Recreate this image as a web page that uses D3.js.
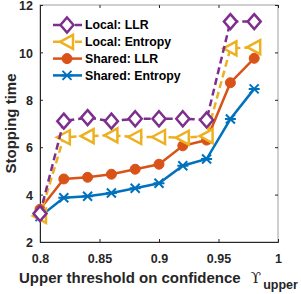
<!DOCTYPE html>
<html>
<head>
<meta charset="utf-8">
<script src="https://cdn.jsdelivr.net/npm/d3@7"></script>
<style>
  body { margin: 0; background: #fff; }
  text { font-family: "Liberation Sans", Arial, sans-serif; font-weight: bold; }
</style>
</head>
<body>
<div id="wrapper"></div>
<script>
// data
const thresholds = [0.8, 0.82, 0.84, 0.86, 0.88, 0.9, 0.92, 0.94, 0.96, 0.98];
const localLLR = [3.2, 7.1, 7.25, 7.1, 7.2, 7.2, 7.2, 7.15, 11.3, 11.3];
const localEntropy = [3.1, 6.42, 6.47, 6.5, 6.43, 6.43, 6.4, 6.47, 10.17, 10.22];
const sharedLLR = [3.38, 4.66, 4.73, 4.86, 5.07, 5.28, 6.06, 6.3, 8.72, 9.75];
const sharedEntropy = [3.07, 3.87, 3.93, 4.07, 4.27, 4.48, 5.22, 5.5, 7.19, 8.46];
const xTicks = [0.8, 0.85, 0.9, 0.95, 1];
const yTicks = [2, 4, 6, 8, 10, 12];

const series = [
  { name: "Local: LLR", values: localLLR, color: "#7E2F8E", dash: "7,4", marker: "diamond" },
  { name: "Local: Entropy", values: localEntropy, color: "#EDB120", dash: "7,4", marker: "triangle" },
  { name: "Shared: LLR", values: sharedLLR, color: "#D95319", dash: null, marker: "circle" },
  { name: "Shared: Entropy", values: sharedEntropy, color: "#0072BD", dash: null, marker: "star" }
];

const width = 301, height = 294;
const margin = { top: 5, right: 23, bottom: 52, left: 40 };

const svg = d3.select("#wrapper").append("svg")
  .attr("width", width)
  .attr("height", height);

const xScale = d3.scaleLinear().domain([0.8, 1]).range([margin.left, width - margin.right]);
const yScale = d3.scaleLinear().domain([2, 12]).range([height - margin.bottom, margin.top]);

const axisColor = "#262626";

// box
svg.append("rect")
  .attr("x", xScale(0.8)).attr("y", yScale(12))
  .attr("width", xScale(1) - xScale(0.8))
  .attr("height", yScale(2) - yScale(12))
  .attr("fill", "none").attr("stroke", "#a0a0a0").attr("stroke-width", 1);

// axes
const xAxis = svg.append("g")
  .attr("transform", `translate(0,${yScale(2)})`)
  .call(d3.axisBottom(xScale).tickValues(xTicks).tickSize(-3).tickPadding(12)
    .tickFormat(d => d === 1 ? "1" : d3.format("")(d)));
const yAxis = svg.append("g")
  .attr("transform", `translate(${xScale(0.8)},0)`)
  .call(d3.axisLeft(yScale).tickValues(yTicks).tickSize(-3).tickPadding(7));
const xTop = svg.append("g")
  .attr("transform", `translate(0,${yScale(12)})`)
  .call(d3.axisTop(xScale).tickValues(xTicks).tickSize(-3).tickFormat(""));
const yRight = svg.append("g")
  .attr("transform", `translate(${xScale(1)},0)`)
  .call(d3.axisRight(yScale).tickValues(yTicks).tickSize(-3).tickFormat(""));

[xAxis, yAxis].forEach(a => {
  a.select(".domain").attr("stroke", axisColor);
  a.selectAll(".tick line").attr("stroke", axisColor);
  a.selectAll(".tick text").attr("fill", axisColor)
    .style("font-size", "12.5px").style("font-family", "'Liberation Sans', Arial, sans-serif")
    .style("font-weight", "bold");
});
yAxis.selectAll(".tick text").attr("dy", "0.38em");
[xTop, yRight].forEach(a => {
  a.select(".domain").remove();
  a.selectAll(".tick line").attr("stroke", axisColor);
});

// markers
const drawMarker = (g, s, x, y) => {
  if (s.marker === "diamond") {
    g.append("path")
      .attr("d", `M${x},${y - 7.5}L${x + 6.5},${y}L${x},${y + 7.5}L${x - 6.5},${y}Z`)
      .attr("fill", "#fff").attr("stroke", s.color).attr("stroke-width", 2.5);
  } else if (s.marker === "triangle") {
    g.append("path")
      .attr("d", `M${x - 7},${y}L${x + 6},${y - 7}L${x + 6},${y + 7}Z`)
      .attr("fill", "#fff").attr("stroke", s.color).attr("stroke-width", 2.5);
  } else if (s.marker === "circle") {
    g.append("circle").attr("cx", x).attr("cy", y).attr("r", 5)
      .attr("fill", s.color).attr("stroke", s.color);
  } else {
    g.append("path")
      .attr("d", `M${x - 4.5},${y - 4.5}L${x + 4.5},${y + 4.5}M${x - 4.5},${y + 4.5}L${x + 4.5},${y - 4.5}M${x - 5.5},${y}L${x + 5.5},${y}`)
      .attr("stroke", s.color).attr("stroke-width", 2).attr("fill", "none");
  }
};

const line = d3.line()
  .x((d, i) => xScale(thresholds[i]))
  .y(d => yScale(d));

// draw bottom series first
[...series].reverse().forEach(s => {
  const g = svg.append("g");
  g.append("path")
    .attr("d", line(s.values))
    .attr("fill", "none")
    .attr("stroke", s.color)
    .attr("stroke-width", 2.5)
    .attr("stroke-dasharray", s.dash);
  s.values.forEach((v, i) => drawMarker(g, s, xScale(thresholds[i]), yScale(v)));
});

// legend
const legend = svg.append("g");
series.forEach((s, i) => {
  const y = 25 + i * 16.8;
  const g = legend.append("g");
  g.append("line")
    .attr("x1", 53).attr("x2", 82).attr("y1", y).attr("y2", y)
    .attr("stroke", s.color).attr("stroke-width", 2.5)
    .attr("stroke-dasharray", s.dash);
  drawMarker(g, s, 67, y);
  g.append("text")
    .attr("x", 85).attr("y", y + 4.3)
    .attr("fill", "#000").style("font-size", "12.3px")
    .text(s.name);
});

// axis labels
svg.append("text")
  .attr("transform", `translate(16,${yScale(7)}) rotate(-90)`)
  .attr("text-anchor", "middle")
  .attr("fill", axisColor).style("font-size", "15px")
  .text("Stopping time");

const xl = svg.append("text")
  .attr("x", 19).attr("y", 283)
  .attr("fill", axisColor).style("font-size", "15px");
xl.append("tspan").text("Upper threshold on confidence ");
xl.append("tspan").attr("dx", 6)
  .style("font-family", "'DejaVu Serif', serif").style("font-weight", "normal")
  .style("font-size", "15px").text("ϒ");
xl.append("tspan").attr("dx", 2).attr("dy", 6).style("font-size", "12.5px").text("upper");
</script>
</body>
</html>
